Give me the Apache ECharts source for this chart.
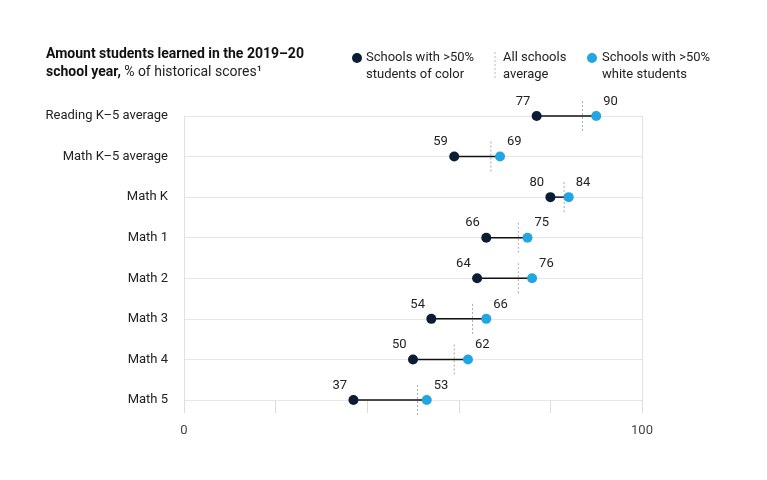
<!DOCTYPE html>
<html>
<head>
<meta charset="utf-8">
<script src="https://cdn.jsdelivr.net/npm/echarts@6/dist/echarts.min.js"></script>
<style>
  html, body { margin: 0; padding: 0; background: #fff; }
  #chart { width: 767px; height: 480px; }
</style>
</head>
<body>
<div id="chart"></div>
<script>
// data
var categories = ['Reading K\u20135 average', 'Math K\u20135 average', 'Math K', 'Math 1', 'Math 2', 'Math 3', 'Math 4', 'Math 5'];
var colorSchools = [77, 59, 80, 66, 64, 54, 50, 37];
var whiteSchools = [90, 69, 84, 75, 76, 66, 62, 53];
var allAverage = [87, 67, 83, 73, 73, 63, 59, 51];
var xTicks = [0, 100];

var DARK = '#0b1d35';
var BLUE = '#22a5e3';
var FONT = 'Roboto, "Noto Sans", sans-serif';

var chart = echarts.init(document.getElementById('chart'));

// connector segments between the two dots
var segData = categories.map(function (c, i) { return [colorSchools[i], whiteSchools[i], i]; });
var avgData = categories.map(function (c, i) { return [allAverage[i], i]; });

var option = {
  animation: false,
  textStyle: { fontFamily: FONT },
  grid: { left: 184, right: 125, top: 116, bottom: 80 },
  xAxis: {
    type: 'value', min: 0, max: 100, interval: 20,
    axisLine: { show: false },
    axisTick: { show: true, length: 13, lineStyle: { color: '#dcdcdc' } },
    splitLine: { show: false },
    axisLabel: {
      margin: 24, color: '#444', fontSize: 13,
      formatter: function (v) { return xTicks.indexOf(v) >= 0 ? v : ''; }
    }
  },
  yAxis: {
    type: 'category', data: categories, inverse: true, boundaryGap: false,
    axisLine: { show: false }, axisTick: { show: false },
    splitLine: { show: true, lineStyle: { color: '#e6e6e6' } },
    axisLabel: { margin: 16, color: '#222', fontSize: 13 }
  },
  graphic: [
    { type: 'text', left: 46, top: 47, style: { text: 'Amount students learned in the 2019\u201320', font: 'bold 14px ' + FONT, fill: '#111' } },
    { type: 'text', left: 46, top: 65, style: {
      text: '{b|school year,} {n|% of historical scores\u00b9}',
      rich: { b: { font: 'bold 14px ' + FONT, fill: '#111' }, n: { font: '14px ' + FONT, fill: '#222' } } } },
    { type: 'circle', shape: { cx: 357, cy: 58, r: 5 }, style: { fill: DARK } },
    { type: 'text', left: 366, top: 49, style: { text: 'Schools with >50%\nstudents of color', font: '13px ' + FONT, fill: '#222', lineHeight: 17 } },
    { type: 'line', shape: { x1: 495, y1: 52, x2: 495, y2: 78 }, style: { stroke: '#bbb', lineDash: [2, 2], lineWidth: 1 } },
    { type: 'text', left: 503, top: 49, style: { text: 'All schools\naverage', font: '13px ' + FONT, fill: '#222', lineHeight: 17 } },
    { type: 'circle', shape: { cx: 592, cy: 58, r: 5 }, style: { fill: BLUE } },
    { type: 'text', left: 602, top: 49, style: { text: 'Schools with >50%\nwhite students', font: '13px ' + FONT, fill: '#222', lineHeight: 17 } }
  ],
  series: [
    {
      // plot frame at 0 and 100
      type: 'line', data: [], silent: true,
      markLine: {
        symbol: 'none', silent: true, label: { show: false },
        lineStyle: { color: '#e0e0e0', type: 'solid', width: 1 },
        data: xTicks.map(function (v) { return { xAxis: v }; })
      }
    },
    {
      type: 'custom', data: avgData, z: 1,
      renderItem: function (params, api) {
        var p = api.coord([api.value(0), api.value(1)]);
        return { type: 'line', shape: { x1: p[0], y1: p[1] - 15, x2: p[0], y2: p[1] + 15 },
          style: { stroke: '#aaa', lineDash: [2, 2], lineWidth: 1 } };
      }
    },
    {
      type: 'custom', data: segData, z: 2,
      renderItem: function (params, api) {
        var a = api.coord([api.value(0), api.value(2)]);
        var b = api.coord([api.value(1), api.value(2)]);
        return { type: 'line', shape: { x1: a[0], y1: a[1], x2: b[0], y2: b[1] },
          style: { stroke: '#111', lineWidth: 1.5 } };
      }
    },
    {
      type: 'scatter', z: 3, symbolSize: 10, itemStyle: { color: DARK, opacity: 1 },
      data: colorSchools.map(function (v, i) { return [v, i]; }),
      label: { show: true, position: [-16, -16], color: '#222', fontSize: 13,
        formatter: function (p) { return p.value[0]; } }
    },
    {
      type: 'scatter', z: 3, symbolSize: 10, itemStyle: { color: BLUE, opacity: 1 },
      data: whiteSchools.map(function (v, i) { return [v, i]; }),
      label: { show: true, position: [12, -16], color: '#222', fontSize: 13,
        formatter: function (p) { return p.value[0]; } }
    }
  ]
};

chart.setOption(option);
</script>
</body>
</html>
